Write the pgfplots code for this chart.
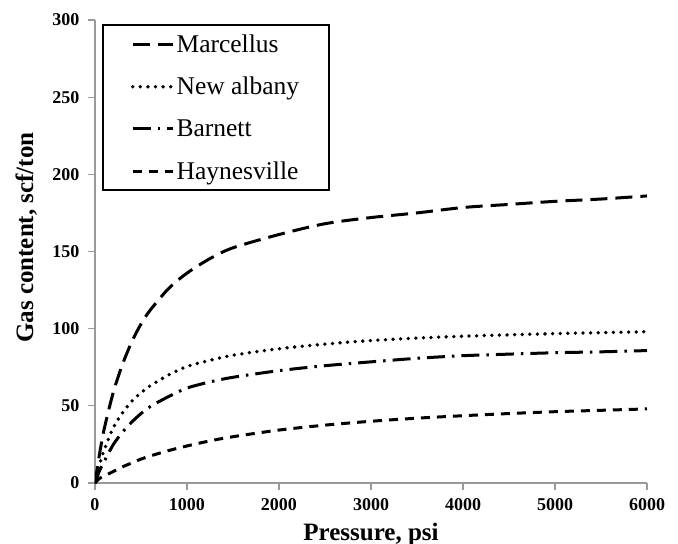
\documentclass[border=0pt]{standalone}
\usepackage{fontspec}
\setmainfont{Liberation Serif}
\usepackage{pgfplots}
\pgfplotsset{compat=1.18}
\begin{document}
\begin{tikzpicture}
\begin{axis}[
  scale only axis,
  width=552pt, height=463pt,
  xmin=0, xmax=6000, ymin=0, ymax=300,
  enlargelimits=false,
  axis lines=left,
  axis line style={-, draw=black!40, line width=1.5pt},
  xtick={0,1000,...,6000},
  ytick={0,50,...,300},
  tick align=outside,
  major tick length=7pt,
  tick style={draw=black!40, line width=1.3pt},
  /pgf/number format/assume math mode=true,
  /pgf/number format/set thousands separator={},
  ticklabel style={font=\bfseries\fontsize{18}{20}\selectfont},
  xticklabel style={anchor=north, yshift=-5pt},
  yticklabel style={anchor=east, xshift=-5pt},
  xlabel={Pressure, psi},
  ylabel={Gas content, scf/ton},
  label style={font=\bfseries\fontsize{25}{28}\selectfont},
  xlabel style={at={(rel axis cs:0.5,0)}, anchor=base, yshift=-57pt},
  ylabel style={at={(rel axis cs:-0.1123,0.53)}, anchor=base},
  legend style={at={(rel axis cs:0.0127,0.991)}, anchor=north west,
    draw=black, line width=1.6pt, font=\fontsize{25.5}{28}\selectfont,
    inner xsep=28pt, inner ysep=7.5pt, row sep=19.5pt},
  legend cell align=left,
  legend image code/.code={\draw[#1] (0pt,0pt) -- (40pt,0pt);},
]
\addplot[black, line width=3pt, dash pattern=on 17pt off 8pt, smooth] coordinates {
(0,0) (50,19) (100,35) (200,59) (300,77) (400,91.5) (500,103) (600,112) (800,126) (1000,136) (1250,145.4) (1500,152.4) (2000,161) (2500,168) (3000,172) (3500,175) (4000,178.5) (4500,180.5) (5000,182.5) (5500,184) (6000,186)};
\addlegendentry{Marcellus}
\addplot[black, line width=3.8pt, line cap=round, dash pattern=on 0pt off 7.6pt, smooth] coordinates {
(0,0) (50,12) (100,21.5) (200,36) (300,45.5) (400,53) (500,58.5) (600,63) (800,70) (1000,75.5) (1250,79.5) (1500,82.8) (2000,87) (2500,90) (3000,92.3) (3500,93.9) (4000,95.1) (4500,96) (5000,96.8) (5500,97.4) (6000,98)};
\addlegendentry{New albany}
\addplot[black, line width=3pt, dash pattern=on 18pt off 7pt on 2.5pt off 7pt, smooth] coordinates {
(0,0) (50,8) (100,14) (200,25) (300,33) (400,39.5) (500,45) (600,49.5) (800,56) (1000,61.5) (1250,65.5) (1500,68.5) (2000,72.8) (2500,76) (3000,78.5) (3500,80.8) (4000,82.5) (4500,83.5) (5000,84.4) (5500,85) (6000,85.8)};
\addlegendentry{Barnett}
\addplot[black, line width=3pt, dash pattern=on 9pt off 7pt, smooth] coordinates {
(0,0) (50,3) (100,4.5) (200,7.5) (300,10.5) (400,13) (500,15.5) (600,17.5) (800,21) (1000,24) (1250,27.3) (1500,30) (2000,34.3) (2500,37.5) (3000,40) (3500,42) (4000,43.6) (4500,45) (5000,46.2) (5500,47.1) (6000,48)};
\addlegendentry{Haynesville}
\coordinate (O) at (rel axis cs:0,0);
\end{axis}
\pgfresetboundingbox
\path[use as bounding box] ([shift={(-95pt,-61pt)}]O) rectangle ([shift={(583pt,483pt)}]O);
\end{tikzpicture}
\end{document}
